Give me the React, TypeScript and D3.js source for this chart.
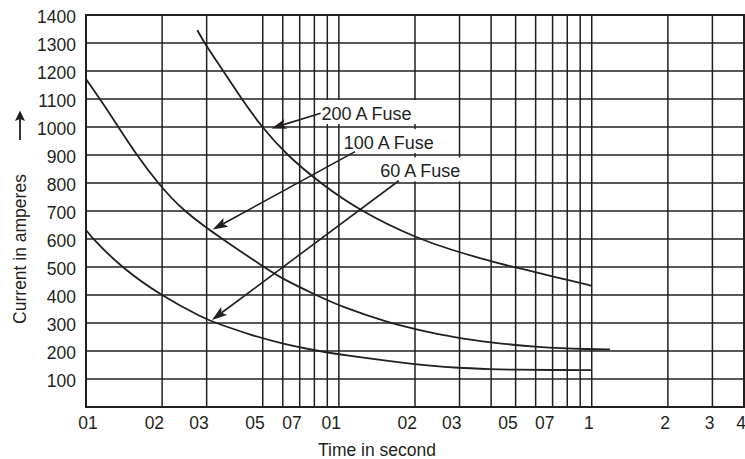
import React, { useMemo } from 'react';
import * as d3 from 'd3';

// ---- Data ----
const xGridValues = [0.01, 0.02, 0.03, 0.05, 0.06, 0.07, 0.08, 0.09, 0.1, 0.2, 0.3, 0.4, 0.5, 0.6, 0.7, 0.8, 0.9, 1, 2, 3, 4];
const yGridValues = [0, 100, 200, 300, 400, 500, 600, 700, 800, 900, 1000, 1100, 1200, 1300, 1400];
const xTickValues = [0.01, 0.02, 0.03, 0.05, 0.07, 0.1, 0.2, 0.3, 0.5, 0.7, 1, 2, 3, 4];
const xTickLabels = ['01', '02', '03', '05', '07', '01', '02', '03', '05', '07', '1', '2', '3', '4'];
const yTickValues = [100, 200, 300, 400, 500, 600, 700, 800, 900, 1000, 1100, 1200, 1300, 1400];

const fuse200Time = [0.02755, 0.02937, 0.03491, 0.04128, 0.04951, 0.06218, 0.0842, 0.1212, 0.2055, 0.286, 0.3614, 0.4336, 0.5, 0.6, 0.7, 1.0];
const fuse200Amps = [1346, 1300, 1200, 1100, 1000, 900, 800, 700, 600, 558, 532, 512, 498, 482, 466, 433];

const fuse100Time = [0.01, 0.01136, 0.01342, 0.01586, 0.0192, 0.02419, 0.0345, 0.05057, 0.06028, 0.0812, 0.101, 0.1593, 0.203, 0.2878, 0.402, 0.6055, 1.0, 1.18];
const fuse100Amps = [1171, 1100, 1000, 900, 800, 700, 600, 500, 456, 400, 360, 299, 277, 248, 230, 213, 206, 206];

const fuse60Time = [0.01, 0.01066, 0.01375, 0.01962, 0.02937, 0.03366, 0.04452, 0.06028, 0.08171, 0.101, 0.203, 0.2878, 0.402, 0.5, 0.7, 1.0];
const fuse60Amps = [632, 600, 500, 400, 315, 296, 258, 225, 201, 187, 151, 140, 135, 133, 132, 132];

const annotationLabels = ['200 A Fuse', '100 A Fuse', '60 A Fuse'];
const annotationTextTime = [0.0853, 0.1046, 0.1457];
const annotationTextAmps = [1025, 921, 820];
const arrowFromTime = [0.0847, 0.1159, 0.1726];
const arrowFromAmps = [1049, 912, 808];
const arrowToTime = [0.0541, 0.0317, 0.0315];
const arrowToAmps = [995, 634, 311];

const xTitle = 'Time in second';
const yTitle = 'Current in amperes';

// ---- Layout / style ----
const W = 745;
const H = 459;
const PL = 86, PR = 744, PT = 15, PB = 407;
const INK = '#231f20';
const FONT = "'Liberation Sans', Arial, Helvetica, sans-serif";
const FS = 17.5;
const FS_ANN = 18;

function measure(text: string, font: string): number {
  const ctx = document.createElement('canvas').getContext('2d');
  if (!ctx) return text.length * 9;
  ctx.font = font;
  return ctx.measureText(text).width;
}

export default function App() {
  const x = d3.scaleLog().domain([0.01, 4]).range([PL, PR]);
  const y = d3.scaleLinear().domain([0, 1400]).range([PB, PT]);

  const line = d3
    .line<[number, number]>()
    .x((d) => x(d[0]))
    .y((d) => y(d[1]))
    .curve(d3.curveBasis);

  const series = [
    d3.zip(fuse200Time, fuse200Amps) as [number, number][],
    d3.zip(fuse100Time, fuse100Amps) as [number, number][],
    d3.zip(fuse60Time, fuse60Amps) as [number, number][],
  ];

  const annWidths = useMemo(
    () => annotationLabels.map((l) => measure(l, `${FS_ANN}px ${FONT}`)),
    []
  );

  const annotations = annotationLabels.map((label, i) => {
    const tx = x(annotationTextTime[i]);
    const ty = y(annotationTextAmps[i]);
    const fx = x(arrowFromTime[i]);
    const fy = y(arrowFromAmps[i]);
    const ex = x(arrowToTime[i]);
    const ey = y(arrowToAmps[i]);
    const dx = ex - fx;
    const dy = ey - fy;
    const len = Math.hypot(dx, dy);
    const ux = dx / len;
    const uy = dy / len;
    const nx = -uy;
    const ny = ux;
    const L = 15;
    const w = 5;
    const bx = ex - ux * L;
    const by = ey - uy * L;
    const notchX = ex - ux * L * 0.8;
    const notchY = ey - uy * L * 0.8;
    const head = `M${ex},${ey}L${bx + nx * w},${by + ny * w}L${notchX},${notchY}L${bx - nx * w},${by - ny * w}Z`;
    return { label, tx, ty, fx, fy, notchX, notchY, head, width: annWidths[i] };
  });

  return (
    <svg
      width={W}
      height={H}
      style={{ position: 'absolute', left: 0, top: 0, background: '#fff' }}
      fontFamily={FONT}
    >
      <rect x={0} y={0} width={W} height={H} fill="#fff" />
      {/* vertical grid */}
      {xGridValues.map((v, i) => (
        <line key={'vx' + i} x1={x(v)} x2={x(v)} y1={PT} y2={PB} stroke={INK} strokeWidth={1.5} />
      ))}
      {/* label backgrounds */}
      {annotations.map((a, i) => (
        <rect
          key={'bg' + i}
          x={a.tx - 3}
          y={a.ty - 20}
          width={a.width + 6}
          height={24}
          fill="#fff"
        />
      ))}
      {/* horizontal grid */}
      {yGridValues.map((v, i) => (
        <line key={'hy' + i} x1={PL} x2={PR} y1={y(v)} y2={y(v)} stroke={INK} strokeWidth={1.5} />
      ))}
      {/* frame */}
      <rect x={PL} y={PT} width={PR - PL} height={PB - PT} fill="none" stroke={INK} strokeWidth={2} />

      {/* curves */}
      {series.map((s, i) => (
        <path key={'s' + i} d={line(s) || ''} fill="none" stroke={INK} strokeWidth={1.8} />
      ))}

      {/* annotations */}
      {annotations.map((a, i) => (
        <g key={'a' + i}>
          <line x1={a.fx} y1={a.fy} x2={a.notchX} y2={a.notchY} stroke={INK} strokeWidth={1.6} />
          <path d={a.head} fill={INK} />
          <text x={a.tx} y={a.ty} fontSize={FS_ANN} fill={INK}>
            {a.label}
          </text>
        </g>
      ))}

      {/* y tick labels */}
      {yTickValues.map((v, i) => (
        <text key={'yt' + i} x={76} y={y(v) + 7.5} fontSize={FS} textAnchor="end" fill={INK}>
          {v}
        </text>
      ))}

      {/* x tick labels */}
      {xTickValues.map((v, i) => (
        <text
          key={'xt' + i}
          x={x(v) + 2}
          y={429}
          fontSize={FS}
          textAnchor={i === 0 ? 'middle' : 'end'}
          fill={INK}
        >
          {xTickLabels[i]}
        </text>
      ))}

      {/* axis titles */}
      <text x={(PL + PR) / 2 - 38} y={456} fontSize={FS} textAnchor="middle" fill={INK}>
        {xTitle}
      </text>
      <text
        transform={`translate(26,249) rotate(-90)`}
        fontSize={FS}
        textAnchor="middle"
        fill={INK}
      >
        {yTitle}
      </text>
      {/* upward arrow above y title */}
      <line x1={20} y1={140} x2={20} y2={119} stroke={INK} strokeWidth={1.8} />
      <path d="M20,110.5L25,121L20,119L15,121Z" fill={INK} />
    </svg>
  );
}
